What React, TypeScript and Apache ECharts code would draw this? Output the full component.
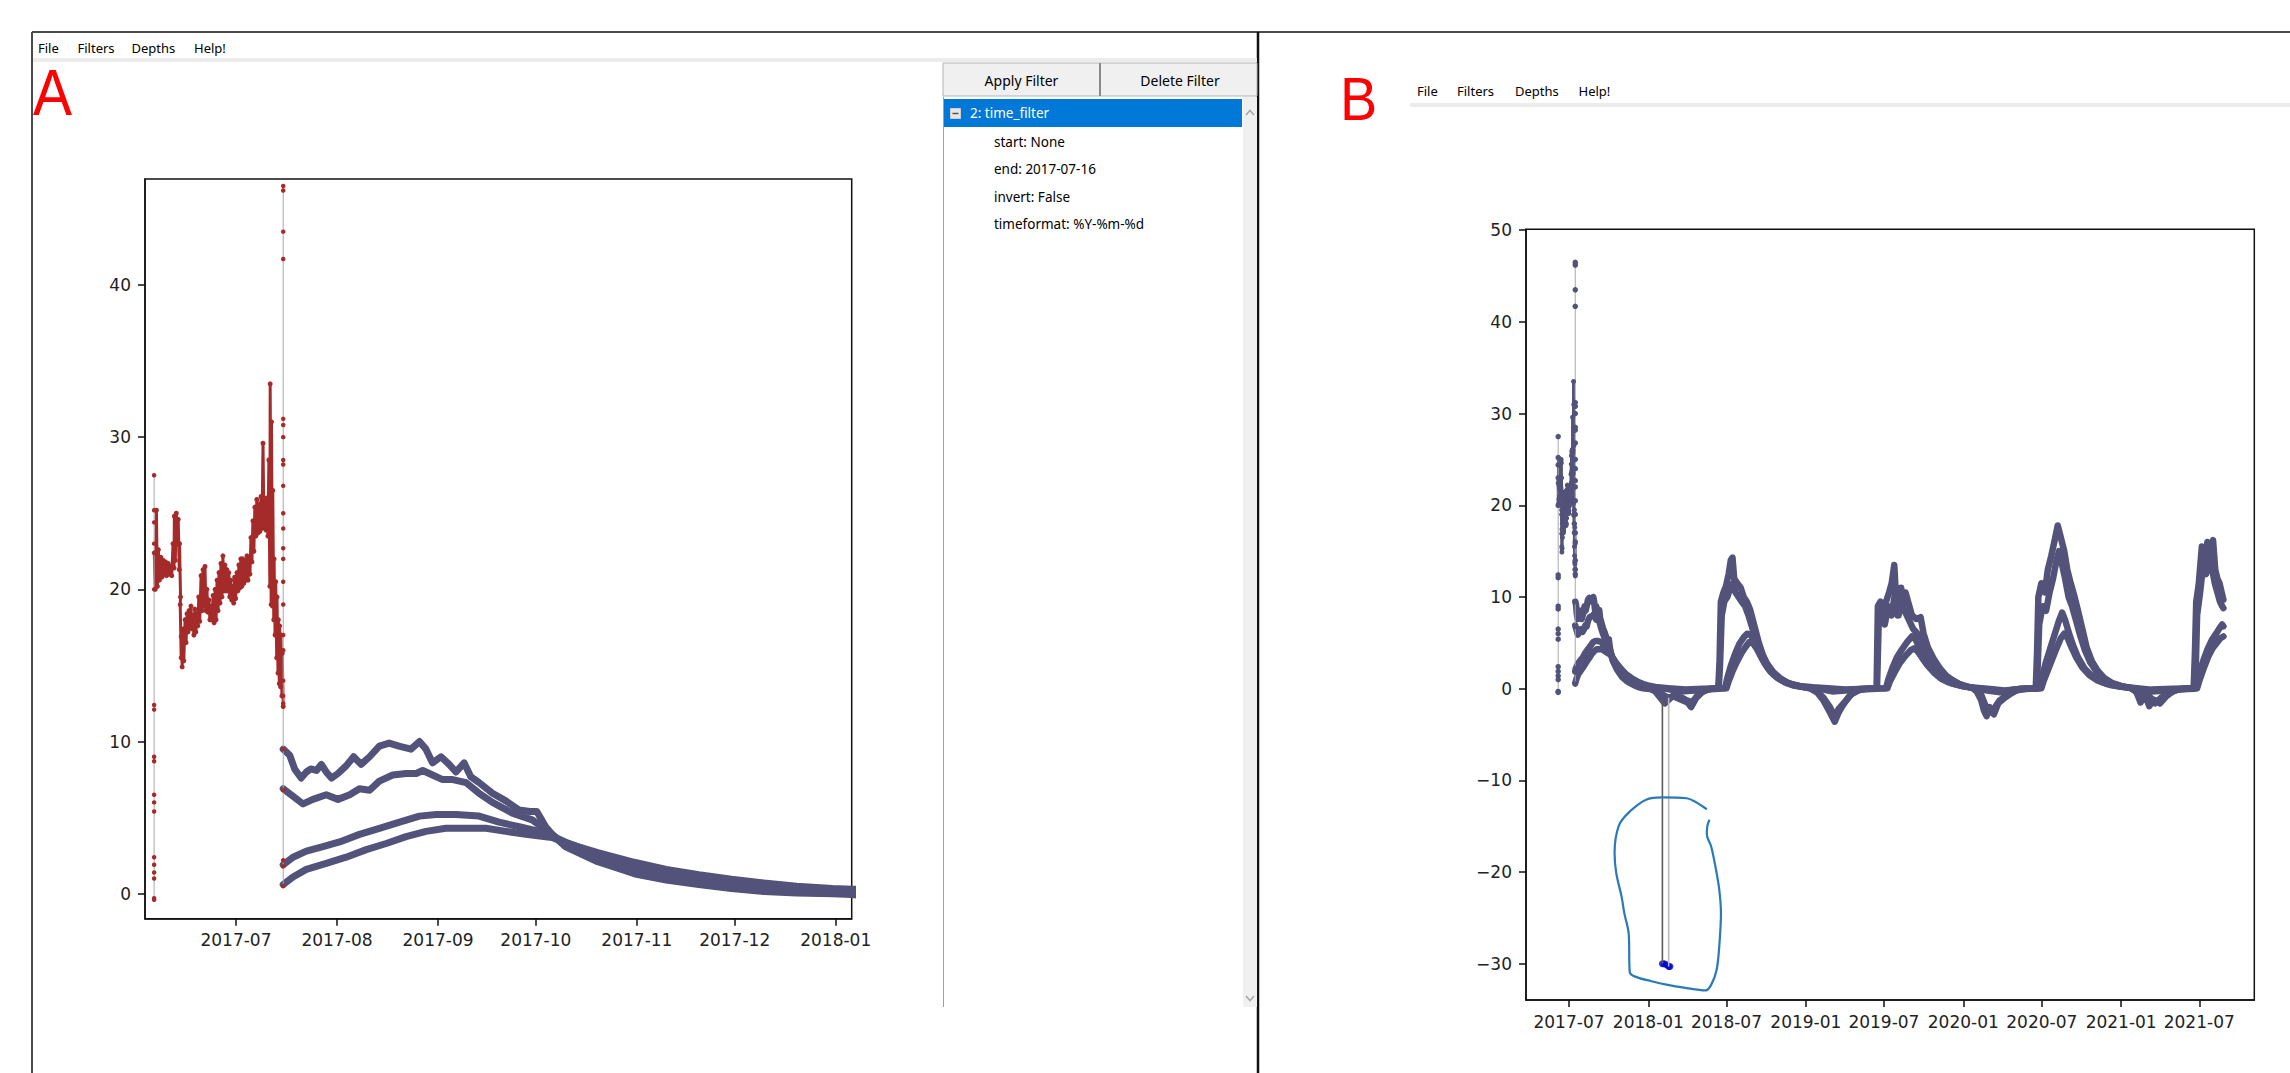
import React, { useEffect, useRef } from "react";
import * as echarts from "echarts";

// ---------- time helpers (days counted from 2017-07-01) ----------
const BASE = Date.UTC(2017, 6, 1);
const DAY = 86400000;
const t = (d: number) => BASE + d * DAY;
const monthTs = (s: string) => Date.UTC(+s.slice(0, 4), +s.slice(5, 7) - 1, 1);

// ---------- tick labels ----------
const xTicksA = ["2017-07", "2017-08", "2017-09", "2017-10", "2017-11", "2017-12", "2018-01"];
const xTicksB = ["2017-07", "2018-01", "2018-07", "2019-01", "2019-07", "2020-01", "2020-07", "2021-01", "2021-07"];
const yTicksA = [0, 10, 20, 30, 40];
const yTicksB = [-30, -20, -10, 0, 10, 20, 30, 40, 50];

// ---------- filtered (before 2017-07-16) noisy band: day, low, high ----------
const bandDays = [-25.06, -24.4, -23.8, -23.0, -22.3, -21.6, -20.8, -20.0, -19.3, -18.9, -18.3, -17.7, -17.3, -17.1, -16.8, -16.3, -15.6, -15.0, -14.4, -13.8, -13.2, -12.6, -12.0, -11.4, -10.7, -10.1, -9.5, -8.9, -8.3, -7.7, -7.0, -6.4, -5.8, -5.2, -4.6, -4.0, -3.4, -2.8, -2.2, -1.6, -1.0, -0.4, 0.3, 0.9, 1.5, 2.1, 2.8, 3.4, 4.0, 4.6, 5.2, 5.8, 6.4, 7.0, 7.7, 8.3, 8.9, 9.5, 10.1, 10.5, 10.9, 11.3, 11.7, 12.2, 12.6, 13.0, 13.4, 13.8, 14.2];
const bandLo = [20.0, 20.2, 20.6, 20.8, 21.0, 20.9, 21.0, 20.9, 21.4, 21.9, 23.0, 21.3, 19.5, 15.5, 14.9, 15.3, 16.5, 17.2, 17.5, 17.4, 17.0, 17.2, 17.6, 17.9, 18.6, 18.9, 18.6, 18.5, 18.0, 18.0, 17.8, 18.0, 18.6, 19.1, 19.5, 19.9, 19.9, 19.9, 19.5, 19.3, 19.1, 19.4, 19.9, 20.1, 20.2, 20.4, 20.6, 20.6, 21.0, 21.8, 22.5, 23.5, 23.7, 23.8, 24.0, 24.1, 23.9, 23.5, 20.2, 19.0, 18.9, 18.0, 17.0, 15.5, 14.5, 13.8, 13.6, 13.0, 12.3];
const bandHi = [22.4, 25.2, 22.6, 22.1, 21.9, 21.8, 21.7, 21.5, 23.0, 24.8, 25.0, 24.6, 23.0, 19.0, 16.9, 17.4, 18.0, 18.4, 18.6, 18.9, 18.3, 18.7, 18.4, 19.5, 20.9, 21.3, 21.5, 20.0, 19.3, 18.9, 19.6, 20.0, 20.6, 21.1, 21.7, 22.2, 21.6, 21.3, 21.1, 20.6, 20.2, 20.8, 21.1, 21.6, 22.0, 22.0, 21.9, 22.2, 22.0, 23.4, 24.5, 25.4, 25.9, 25.6, 26.1, 29.6, 25.7, 26.0, 28.5, 33.5, 31.0, 26.5, 22.0, 20.5, 19.5, 18.0, 17.6, 17.0, 15.8];

// vertical drops (single timestamps)
const startDropDay = -25.1;
const startDropVals = [27.5, 25.2, 24.4, 23.0, 20.0, 12.4, 12.1, 9.0, 8.7, 6.5, 6.0, 5.4, 2.4, 1.9, 1.4, 1.0, -0.3, -0.4];
const jumpDay = 14.5;
const jumpVals = [46.5, 46.2, 43.5, 41.7, 31.2, 30.8, 30.0, 28.5, 28.2, 26.8, 25.0, 24.0, 22.7, 22.0, 20.5, 19.0, 17.0, 16.0, 14.0, 13.0, 12.5, 9.5, 6.8, 2.2, 1.8, 0.5];
const flaggedVals = [46.5, 46.2, 43.5, 41.7];

// ---------- the four depth series: [day, value] ----------
const depth1: [number, number][] = [
  [14.5, 9.5], [16.5, 9.1], [18, 8.2], [20, 7.6], [21.6, 8.0], [23, 8.2], [24.7, 8.1], [26.2, 8.5], [27.7, 8.0], [29.3, 7.6], [31.3, 7.9], [33.8, 8.4], [36.1, 9.0], [38.4, 8.5], [41, 9.0], [44, 9.7], [47, 9.9], [50, 9.7], [53.7, 9.5], [56.3, 10.0], [58.3, 9.5], [60.3, 8.6], [62.9, 9.0], [65.4, 8.5], [67.5, 8.0], [70, 8.6], [72, 7.7], [74.6, 7.3], [78.7, 6.6], [82.8, 6.1], [86.9, 5.5], [90.2, 5.4], [92.3, 5.4], [95, 4.4], [97, 3.9], [101, 3.1], [111, 2.1], [122.5, 1.3], [132, 0.9], [142, 0.6], [152, 0.35], [162, 0.15], [172, 0.05], [183, 0.0], [189, -0.05],
  [200, -0.3], [212, -1.0], [222, -1.6], [240, -0.8], [260, -1.2], [275, -1.5], [283, -2.0], [295, -1.0], [310, -0.3], [330, 0.0], [346, 0.05],
  [349, 3.0], [352, 9.5], [358, 10.5], [364, 11.2], [370, 12.5], [375, 14.0], [379, 14.3], [383, 12.0], [390, 11.5], [398, 11.0], [405, 10.0], [412, 9.5], [420, 8.6], [430, 6.8], [440, 5.0], [450, 3.6], [460, 2.6], [475, 1.6], [490, 1.0], [505, 0.6], [520, 0.35], [540, 0.2], [558, 0.05],
  [575, -0.4], [590, -1.3], [605, -2.6], [616, -3.6], [625, -2.6], [635, -1.8], [650, -0.8], [665, -0.2], [690, 0.0], [713, 0.05],
  [716, 9.0], [722, 9.5], [728, 7.5], [735, 9.5], [742, 10.5], [748, 11.5], [754, 13.5], [758, 10.0], [764, 8.0], [770, 11.0], [775, 9.0], [780, 10.5], [786, 9.5], [795, 8.0], [805, 7.6], [815, 7.8], [822, 6.0], [832, 4.5], [845, 3.3], [860, 2.2], [875, 1.4], [890, 0.9], [905, 0.5], [920, 0.25], [935, 0.1],
  [945, -0.3], [955, -1.2], [962, -2.4], [968, -3.0], [975, -2.0], [985, -2.8], [995, -1.6], [1010, -1.0], [1025, -0.5], [1045, 0.0], [1082, 0.05],
  [1085, 4.0], [1088, 10.0], [1095, 11.5], [1103, 10.5], [1110, 13.0], [1118, 14.5], [1125, 16.0], [1133, 17.8], [1140, 16.5], [1148, 15.0], [1155, 13.0], [1163, 11.5], [1172, 10.0], [1180, 8.5], [1190, 6.5], [1200, 4.5], [1212, 3.0], [1225, 2.0], [1240, 1.2], [1260, 0.6], [1280, 0.3], [1300, 0.1],
  [1315, -0.3], [1325, -1.5], [1335, -0.6], [1345, -1.9], [1355, -1.2], [1370, -1.6], [1385, -0.8], [1400, -0.3], [1420, 0.0], [1448, 0.05],
  [1451, 4.0], [1454, 9.5], [1460, 11.5], [1467, 15.5], [1473, 14.0], [1480, 16.0], [1487, 15.0], [1493, 16.2], [1498, 13.0], [1503, 12.0], [1508, 11.5], [1513, 10.5], [1517, 9.7],
];
const depth2: [number, number][] = [
  [14.5, 6.9], [17.5, 6.4], [20.6, 5.9], [23.6, 6.2], [27.7, 6.5], [31.3, 6.2], [34.9, 6.5], [37.9, 6.9], [41, 6.8], [44, 7.4], [48.1, 7.8], [52.2, 7.9], [55.3, 7.9], [57.3, 8.1], [60.3, 7.8], [63.4, 7.5], [66.5, 7.5], [70.6, 7.3], [74.6, 6.6], [78.7, 6.0], [84.8, 5.3], [90.9, 4.85], [95, 4.2], [97, 3.9], [101, 3.2], [111, 2.3], [122.5, 1.5], [132, 1.05], [142, 0.75], [152, 0.45], [162, 0.25], [172, 0.1], [183, 0.05], [189, 0.0],
  [200, -0.2], [215, -0.6], [230, -1.0], [250, -0.7], [270, -1.2], [285, -1.5], [300, -0.6], [320, -0.1], [347, 0.0],
  [350, 2.5], [354, 8.0], [360, 9.5], [367, 10.0], [374, 11.0], [380, 11.5], [386, 10.5], [393, 10.0], [400, 9.5], [408, 9.0], [416, 8.0], [425, 6.6], [435, 5.2], [445, 4.0], [458, 2.8], [472, 1.9], [488, 1.2], [505, 0.7], [525, 0.35], [545, 0.15], [560, 0.05],
  [575, -0.3], [590, -1.0], [605, -2.0], [616, -3.1], [625, -2.2], [640, -1.4], [655, -0.6], [675, -0.1], [714, 0.0],
  [718, 7.5], [725, 8.5], [732, 7.0], [740, 9.0], [748, 8.0], [756, 10.5], [762, 8.0], [770, 9.0], [778, 8.5], [788, 7.5], [798, 6.5], [808, 6.0], [818, 5.5], [828, 4.3], [840, 3.3], [855, 2.3], [870, 1.5], [888, 0.9], [905, 0.5], [925, 0.2], [940, 0.05],
  [955, -0.6], [965, -1.8], [975, -2.6], [985, -2.2], [998, -1.3], [1015, -0.7], [1035, -0.2], [1060, 0.0], [1084, 0.0],
  [1087, 3.0], [1090, 7.0], [1098, 9.0], [1106, 8.5], [1114, 10.5], [1122, 12.0], [1130, 14.0], [1136, 15.0], [1143, 13.5], [1150, 12.0], [1158, 10.0], [1166, 9.0], [1175, 7.5], [1185, 5.8], [1196, 4.2], [1208, 2.9], [1222, 1.9], [1238, 1.1], [1258, 0.55], [1280, 0.25], [1305, 0.05],
  [1320, -0.6], [1332, -1.2], [1345, -0.8], [1358, -1.6], [1372, -1.0], [1390, -0.5], [1410, -0.1], [1449, 0.0],
  [1452, 0.5], [1456, 8.0], [1463, 10.5], [1470, 13.5], [1477, 12.5], [1484, 14.5], [1491, 13.0], [1497, 11.5], [1503, 10.5], [1509, 9.5], [1514, 9.0], [1517, 8.8],
];
const depth3: [number, number][] = [
  [14.5, 1.9], [17.5, 2.4], [21.6, 2.8], [26.7, 3.1], [31.8, 3.4], [37.9, 3.9], [44, 4.3], [50.2, 4.7], [56.3, 5.1], [61.4, 5.2], [67.5, 5.2], [74.6, 5.1], [80.7, 4.7], [86.9, 4.4], [93, 4.1], [97, 3.8], [101, 3.4], [111, 2.6], [122.5, 1.9], [132, 1.45], [142, 1.1], [152, 0.8], [162, 0.55], [172, 0.35], [183, 0.25], [189, 0.2],
  [205, 0.1], [225, 0.0], [260, -0.3], [290, -0.2], [330, 0.0], [362, 0.05],
  [366, 1.0], [375, 2.5], [385, 3.8], [395, 4.9], [405, 5.6], [413, 6.0], [421, 5.9], [430, 5.2], [440, 4.1], [452, 2.9], [466, 1.9], [482, 1.2], [500, 0.7], [520, 0.4], [545, 0.2], [575, 0.05], [610, -0.3], [640, -0.2], [680, 0.0], [735, 0.05],
  [740, 1.0], [750, 2.3], [760, 3.4], [772, 4.3], [784, 5.1], [795, 5.7], [803, 5.4], [812, 4.5], [822, 3.6], [835, 2.6], [850, 1.7], [868, 1.0], [888, 0.55], [910, 0.3], [935, 0.1], [970, -0.2], [1000, -0.4], [1030, -0.1], [1070, 0.0], [1092, 0.05],
  [1096, 1.2], [1105, 2.8], [1115, 4.3], [1125, 5.8], [1135, 7.3], [1143, 8.3], [1150, 7.5], [1158, 6.2], [1168, 4.8], [1180, 3.4], [1195, 2.2], [1212, 1.4], [1232, 0.8], [1255, 0.4], [1280, 0.2], [1310, 0.05], [1350, -0.3], [1390, -0.2], [1430, 0.0], [1455, 0.05],
  [1460, 1.5], [1470, 3.0], [1480, 4.3], [1490, 5.3], [1500, 6.0], [1508, 6.6], [1514, 7.0], [1517, 6.8],
];
const depth4: [number, number][] = [
  [14.5, 0.6], [17.5, 1.1], [21.6, 1.6], [27.7, 2.0], [33.8, 2.4], [40, 2.9], [46.1, 3.3], [52.2, 3.75], [58.3, 4.1], [64.4, 4.3], [70.6, 4.3], [76.7, 4.3], [82.8, 4.1], [88.9, 3.9], [95, 3.75], [97, 3.7], [101, 3.35], [111, 2.7], [122.5, 2.05], [132, 1.6], [142, 1.25], [152, 0.95], [162, 0.7], [172, 0.5], [183, 0.35], [189, 0.3],
  [205, 0.15], [230, 0.05], [270, -0.1], [310, 0.0], [365, 0.05],
  [370, 0.8], [380, 2.0], [390, 3.0], [400, 3.9], [410, 4.6], [418, 5.1], [426, 5.0], [436, 4.3], [447, 3.3], [460, 2.3], [475, 1.5], [492, 0.95], [512, 0.55], [535, 0.3], [565, 0.15], [600, 0.05], [640, -0.1], [690, 0.0], [738, 0.05],
  [744, 0.8], [755, 1.8], [767, 2.8], [780, 3.6], [792, 4.2], [800, 4.4], [808, 4.1], [818, 3.4], [830, 2.6], [845, 1.8], [862, 1.1], [882, 0.65], [905, 0.35], [930, 0.15], [970, 0.0], [1010, -0.2], [1050, 0.0], [1095, 0.05],
  [1100, 0.8], [1110, 2.0], [1120, 3.2], [1130, 4.4], [1140, 5.5], [1148, 6.0], [1156, 5.5], [1165, 4.5], [1176, 3.4], [1190, 2.3], [1206, 1.5], [1225, 0.9], [1248, 0.5], [1275, 0.25], [1305, 0.1], [1350, -0.1], [1400, 0.0], [1456, 0.05],
  [1462, 1.0], [1472, 2.3], [1482, 3.5], [1492, 4.4], [1502, 5.0], [1510, 5.5], [1517, 5.7],
];

// ---------- outlier (-30) and hand-drawn annotation in panel B ----------
const outlierDownLeg: [number, number][] = [[216.5, -1.2], [216.5, -30.0]];
const outlierUpLeg: [number, number][] = [[231, -30.3], [231, -1.0]];
const outlierPoints: [number, number][] = [[216.5, -30.0], [221, -30.0], [226, -30.1], [231, -30.3], [234, -30.3]];
const annotationLoop: [number, number][] = [
  [319.5, -13.15], [291.6, -12.3], [272.9, -11.95], [216.2, -11.85], [178.7, -12.1], [140.8, -13.4], [115.8, -14.9], [105.6, -17.9], [109.5, -20.1], [122, -22.7], [128.3, -24.5], [138.3, -26.7], [140.8, -30.9], [153.4, -31.4], [191.2, -31.9], [228.8, -32.3], [266.6, -32.6], [316.9, -32.9], [329.5, -32.3], [342, -30.7], [348.3, -28.1], [352.2, -24.5], [348.3, -21.9], [339.4, -19.4], [329.5, -17.2], [319.5, -15.9], [320.6, -15.0], [325.7, -14.3],
];

// ---------- UI texts ----------
const menuItems = ["File", "Filters", "Depths", "Help!"];
const treeRoot = "2: time_filter";
const treeChildren = ["start: None", "end: 2017-07-16", "invert: False", "timeformat: %Y-%m-%d"];

const SLATE = "#52527a";
const BROWN = "#a52a2a";
const GRAYLINE = "#a8a8a8";

const fmtMonth = (v: number) => {
  const d = new Date(v);
  return `${d.getUTCFullYear()}-${String(d.getUTCMonth() + 1).padStart(2, "0")}`;
};
const fmtNum = (v: number) => (v < 0 ? "\u2212" + Math.abs(v) : String(v));

const toTs = (arr: [number, number][]) => arr.map(([d, v]) => [t(d), v]);

export default function App() {
  const ref = useRef<HTMLDivElement>(null);
  useEffect(() => {
    if (!ref.current) return;
    const chart = echarts.init(ref.current, undefined, { renderer: "svg" });

    const bandZig: number[][] = [];
    bandDays.forEach((d, i) => {
      bandZig.push([t(d), bandHi[i]]);
      bandZig.push([t(d + 0.3), bandLo[i]]);
    });
    const startDrop = startDropVals.map((v) => [t(startDropDay), v]);
    const jumpDrop = jumpVals.map((v) => [t(jumpDay), v]);
    const flagged = flaggedVals.map((v) => [t(jumpDay), v]);

    const axisX = (gridIndex: number, min: number, max: number, ticks: string[]) => {
      const vals = ticks.map(monthTs);
      return {
        type: "value",
        gridIndex,
        min,
        max,
        axisLine: { show: true, onZero: false, lineStyle: { color: "#111", width: 1.5 } },
        axisTick: { show: true, length: 7, lineStyle: { color: "#111", width: 1.5 }, customValues: vals },
        axisLabel: { customValues: vals, formatter: fmtMonth, fontFamily: "DejaVu Sans", fontSize: 17, color: "#222", margin: 13 },
        splitLine: { show: false },
      };
    };
    const axisY = (gridIndex: number, min: number, max: number, ticks: number[]) => ({
      type: "value",
      gridIndex,
      min,
      max,
      axisLine: { show: true, onZero: false, lineStyle: { color: "#111", width: 1.5 } },
      axisTick: { show: true, length: 7, lineStyle: { color: "#111", width: 1.5 }, customValues: ticks },
      axisLabel: { customValues: ticks, formatter: fmtNum, fontFamily: "DejaVu Sans", fontSize: 17, color: "#222", margin: 14 },
      splitLine: { show: false },
    });

    const depthSeries = (g: number, w: number) =>
      [depth1, depth2, depth3, depth4].map((arr) => ({
        type: "line",
        xAxisIndex: g,
        yAxisIndex: g,
        data: toTs(arr),
        showSymbol: false,
        lineStyle: { color: SLATE, width: w, cap: "round", join: "round" },
        silent: true,
      }));

    const dropSeries = (g: number, data: number[][], color: string, size: number) => ({
      type: "line",
      xAxisIndex: g,
      yAxisIndex: g,
      data,
      symbol: "circle",
      symbolSize: size,
      showSymbol: true,
      itemStyle: { color },
      lineStyle: { color: GRAYLINE, width: 1 },
      silent: true,
    });

    const bandSeries = (g: number, color: string, w: number, size: number) => ({
      type: "line",
      xAxisIndex: g,
      yAxisIndex: g,
      data: bandZig,
      symbol: "circle",
      symbolSize: size,
      showSymbol: true,
      showAllSymbol: true,
      itemStyle: { color },
      lineStyle: { color, width: w },
      silent: true,
    });

    const txt = (text: string, x: number, y: number, size: number, fill = "#000", align = "left") => ({
      type: "text",
      x,
      y,
      silent: true,
      style: { text, fontSize: size, fontFamily: "Noto Sans", fill, textAlign: align, textVerticalAlign: "middle" },
    });

    const menuXA = [38, 77.5, 131.5, 194];
    const menuXB = [1417, 1457, 1515, 1578.5];
    const childY = [141.7, 169, 196.7, 224.3];

    const graphics: any[] = [
      { type: "line", silent: true, shape: { x1: 32, y1: 32, x2: 2290, y2: 32 }, style: { stroke: "#4a4a4a", lineWidth: 2 } },
      { type: "line", silent: true, shape: { x1: 32, y1: 32, x2: 32, y2: 1073 }, style: { stroke: "#4a4a4a", lineWidth: 2 } },
      { type: "line", silent: true, shape: { x1: 1258, y1: 32, x2: 1258, y2: 1073 }, style: { stroke: "#111", lineWidth: 2.5 } },
      { type: "rect", silent: true, shape: { x: 33, y: 58, width: 1224, height: 4 }, style: { fill: "#ececec" } },
      { type: "rect", silent: true, shape: { x: 1410, y: 103, width: 880, height: 4 }, style: { fill: "#ececec" } },
      ...menuItems.map((m, i) => txt(m, menuXA[i], 48, 13)),
      ...menuItems.map((m, i) => txt(m, menuXB[i], 91, 13)),
      { type: "text", x: 33, y: 92.7, scaleX: 0.9, silent: true, style: { text: "A", fontSize: 65, fontFamily: "Liberation Sans", fill: "#ff0000", textVerticalAlign: "middle" } },
      { type: "text", x: 1340, y: 98, scaleX: 0.9, silent: true, style: { text: "B", fontSize: 62, fontFamily: "Liberation Sans", fill: "#ff0000", textVerticalAlign: "middle" } },
      // buttons
      { type: "rect", silent: true, shape: { x: 943, y: 63, width: 157, height: 33 }, style: { fill: "#f0f0f0", stroke: "#b4b4b4", lineWidth: 1 } },
      { type: "rect", silent: true, shape: { x: 1100, y: 63, width: 157, height: 33 }, style: { fill: "#f0f0f0", stroke: "#b4b4b4", lineWidth: 1 } },
      { type: "line", silent: true, shape: { x1: 1100, y1: 63, x2: 1100, y2: 96 }, style: { stroke: "#8a8a8a", lineWidth: 2 } },
      txt("Apply Filter", 1021.5, 80, 14, "#000", "center"),
      txt("Delete Filter", 1180, 80, 14, "#000", "center"),
      // tree panel
      { type: "rect", silent: true, shape: { x: 943, y: 97, width: 300, height: 910 }, style: { fill: "#ffffff" } },
      { type: "line", silent: true, shape: { x1: 943.5, y1: 97, x2: 943.5, y2: 1007 }, style: { stroke: "#a0a0a0", lineWidth: 1 } },
      { type: "rect", silent: true, shape: { x: 1243, y: 97, width: 14, height: 910 }, style: { fill: "#f0f0f0" } },
      { type: "polyline", silent: true, shape: { points: [[1246, 115], [1250, 110.5], [1254, 115]] }, style: { stroke: "#a6a6a6", lineWidth: 1.5, fill: null } },
      { type: "polyline", silent: true, shape: { points: [[1246, 996], [1250, 1000.5], [1254, 996]] }, style: { stroke: "#a6a6a6", lineWidth: 1.5, fill: null } },
      { type: "rect", silent: true, shape: { x: 944, y: 99, width: 298, height: 28 }, style: { fill: "#0078d7" } },
      { type: "rect", silent: true, shape: { x: 950.5, y: 108.5, width: 10, height: 10 }, style: { fill: "#e6e6e6", stroke: "#cfcfcf", lineWidth: 1 } },
      { type: "line", silent: true, shape: { x1: 952.5, y1: 113.5, x2: 958.5, y2: 113.5 }, style: { stroke: "#555", lineWidth: 1.5 } },
      txt(treeRoot, 970, 113, 13.5, "#ffffff"),
      ...treeChildren.map((c, i) => txt(c, 994, childY[i], 13.5)),
    ];

    const option: any = {
      animation: false,
      backgroundColor: "#ffffff",
      grid: [
        { left: 145, top: 179, width: 706.7, height: 739.7, show: true, borderColor: "#111", borderWidth: 1.5, outerBoundsMode: "none" },
        { left: 1526, top: 229.3, width: 728.3, height: 770.7, show: true, borderColor: "#111", borderWidth: 1.5, outerBoundsMode: "none" },
      ],
      xAxis: [axisX(0, t(-27.9), t(188.9), xTicksA), axisX(1, t(-99.7), t(1588.6), xTicksB)],
      yAxis: [axisY(0, -1.64, 46.96, yTicksA), axisY(1, -33.95, 50.1, yTicksB)],
      series: [
        // Panel A
        bandSeries(0, BROWN, 3, 5),
        dropSeries(0, startDrop, BROWN, 4.5),
        ...depthSeries(0, 7),
        dropSeries(0, jumpDrop, BROWN, 4.5),
        // Panel B
        bandSeries(1, SLATE, 3, 5),
        dropSeries(1, startDrop, SLATE, 5.5),
        ...depthSeries(1, 6.5),
        dropSeries(1, jumpDrop, SLATE, 5.5),
        { type: "scatter", xAxisIndex: 1, yAxisIndex: 1, data: flagged, symbolSize: 4.5, itemStyle: { color: "#c0282a" }, silent: true },
        { type: "line", xAxisIndex: 1, yAxisIndex: 1, data: toTs(outlierDownLeg), showSymbol: false, lineStyle: { color: "#5a5a5a", width: 1.6 }, silent: true },
        { type: "line", xAxisIndex: 1, yAxisIndex: 1, data: toTs(outlierUpLeg), showSymbol: false, lineStyle: { color: "#b8b8b8", width: 1.6 }, silent: true },
        { type: "scatter", xAxisIndex: 1, yAxisIndex: 1, data: toTs(outlierPoints), symbolSize: 7, itemStyle: { color: "#0000cd" }, silent: true },
        { type: "line", xAxisIndex: 1, yAxisIndex: 1, data: toTs(annotationLoop), smooth: 0.35, showSymbol: false, lineStyle: { color: "#2a7ab8", width: 2.2 }, silent: true },
      ],
      graphic: { elements: graphics },
    };
    chart.setOption(option);
    return () => chart.dispose();
  }, []);

  return (
    <div
      ref={ref}
      style={{ position: "fixed", left: 0, top: 0, width: 2290, height: 1073, background: "#fff" }}
    />
  );
}
